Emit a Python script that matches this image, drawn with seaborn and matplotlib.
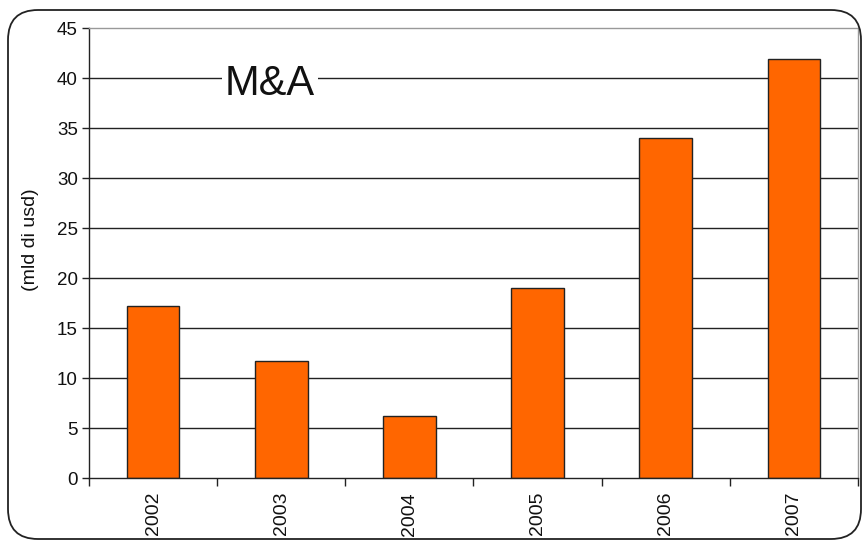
import pandas as pd
import numpy as np
import matplotlib
matplotlib.use('Agg')
import matplotlib.pyplot as plt
import seaborn as sns
from matplotlib.patches import FancyBboxPatch

years = ['2002', '2003', '2004', '2005', '2006', '2007']
values = [17.2, 11.7, 6.2, 19.0, 34.0, 41.9]
yticks = [0, 5, 10, 15, 20, 25, 30, 35, 40, 45]

df = pd.DataFrame({'anno': years, 'valore': values})

sns.set_style('white')
plt.rcParams['font.family'] = ['Liberation Sans', 'DejaVu Sans']
plt.rcParams['text.color'] = '#111111'
plt.rcParams['xtick.color'] = '#111111'
plt.rcParams['ytick.color'] = '#111111'
plt.rcParams['axes.labelcolor'] = '#111111'

fig = plt.figure(figsize=(8.64, 5.42), dpi=100)
ax = fig.add_axes([0.103, 0.118, 0.890, 0.830])

# grid lines behind the bars
for y in yticks[1:-1]:
    ax.axhline(y, color='#222222', lw=1.0, zorder=0)

sns.barplot(data=df, x='anno', y='valore', color='#FF6600', saturation=1,
            width=0.41, edgecolor='#222222', linewidth=1.0, ax=ax, zorder=2)

ax.set_xlim(-0.5, len(years) - 0.5)
ax.set_ylim(0, 45)
ax.set_yticks(yticks)
ax.tick_params(axis='y', labelsize=13.5, length=5, width=1, color='#222222',
               direction='out', pad=3, left=True)
ax.tick_params(axis='x', which='major', length=0, labelsize=14, rotation=90, pad=10)
ax.set_xticks(np.arange(-0.5, len(years) + 0.5, 1), minor=True)
ax.tick_params(axis='x', which='minor', length=6, width=1, color='#222222',
               direction='out', bottom=True)
ax.set_xlabel('')
ax.set_ylabel('(mld di usd)', fontsize=14, labelpad=13)
ax.yaxis.label.set_y(0.53)

for side in ['left', 'bottom']:
    ax.spines[side].set_color('#222222')
    ax.spines[side].set_linewidth(1.0)
for side in ['top', 'right']:
    ax.spines[side].set_color('#999999')
    ax.spines[side].set_linewidth(1.0)

ax.text(0.91, 39.4, 'M&A', fontsize=30, ha='center', va='center', zorder=3,
        bbox=dict(facecolor='white', edgecolor='none', pad=2))

border = FancyBboxPatch((0.08, 0.03), 8.53, 5.29,
                        boxstyle='round,pad=0,rounding_size=0.3',
                        transform=fig.dpi_scale_trans, fill=False,
                        edgecolor='#222222', linewidth=1.3)
fig.patches.append(border)

fig.savefig('out.png', dpi=100)
